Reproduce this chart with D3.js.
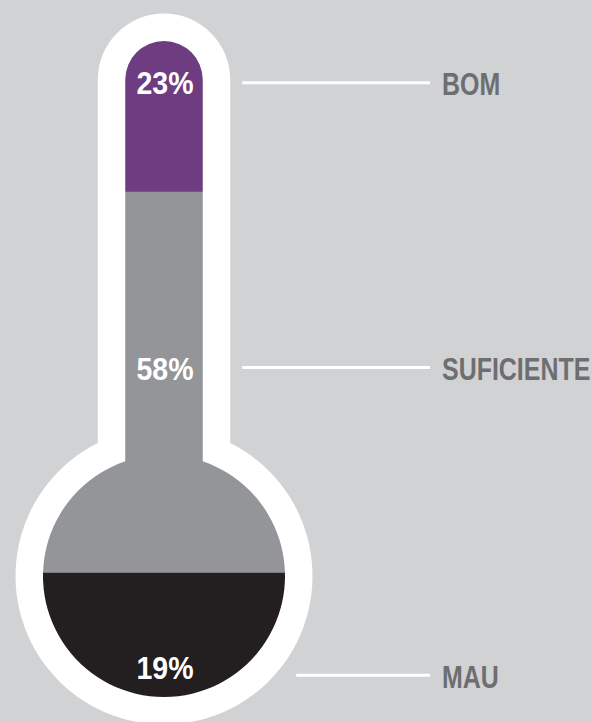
<!DOCTYPE html>
<html>
<head>
<meta charset="utf-8">
<script src="https://cdn.jsdelivr.net/npm/d3@7"></script>
<style>
  html, body { margin: 0; padding: 0; background: #d1d2d4; }
  svg { display: block; }
  .pct, .cat { font-family: "Liberation Sans", Arial, sans-serif; font-weight: bold; }
</style>
</head>
<body>
<script>
// Survey rating shares, stacked from the bottom of the bulb upwards
const categories = ["MAU", "SUFICIENTE", "BOM"];
const shares = [19, 58, 23];
const colors = ["#231f20", "#939598", "#6e3c80"];
// scale level (0–100) of each percentage label inside the fluid
const pctLevels = [4.45, 50, 93.6];
// scale level (0–100) of each category callout on the right
const calloutLevels = [3.1, 50, 93.4];

const W = 592, H = 722;
const cx = 164;               // thermometer axis
const tubeHalf = 38.75;       // inner tube half-width
const tubeTop = 41;           // top of the fluid column
const bulbCy = 576, bulbR = 121;
const border = 27.5;          // white glass thickness

const svg = d3.select("body").append("svg")
  .attr("width", W).attr("height", H);

svg.append("rect").attr("width", W).attr("height", H).attr("fill", "#d1d2d4");

// fluid scale: 0 at the bottom of the bulb, 100 at the top of the tube
const y = d3.scaleLinear().domain([0, 100]).range([bulbCy + bulbR, tubeTop]);

function thermoPath(half, r, top) {
  const p = d3.path();
  const arcCy = top + half;
  const dx = half;
  const dy = Math.sqrt(r * r - dx * dx);
  p.moveTo(cx - half, arcCy);
  p.arc(cx, arcCy, half, Math.PI, 0);
  p.lineTo(cx + half, bulbCy - dy);
  // around the bulb, from the right join to the left join the long way
  const a0 = Math.atan2(-dy, dx);
  const a1 = Math.atan2(-dy, -dx);
  p.arc(cx, bulbCy, r, a0, a1, false);
  p.closePath();
  return p.toString();
}

// white glass
svg.append("path")
  .attr("d", thermoPath(tubeHalf + border, bulbR + border, tubeTop - border))
  .attr("fill", "#ffffff");

// fluid clip
svg.append("clipPath").attr("id", "fluid")
  .append("path")
  .attr("d", thermoPath(tubeHalf, bulbR, tubeTop));

// stacked segments
let acc = 0;
const segs = shares.map((v, i) => {
  const s = {
    cat: categories[i], v, lo: acc, hi: acc + v, color: colors[i],
    pctLvl: pctLevels[i], callLvl: calloutLevels[i]
  };
  acc += v;
  return s;
});

const g = svg.append("g").attr("clip-path", "url(#fluid)");
g.selectAll("rect").data(segs).join("rect")
  .attr("x", cx - bulbR - 2)
  .attr("width", 2 * bulbR + 4)
  .attr("y", d => y(d.hi))
  .attr("height", d => y(d.lo) - y(d.hi))
  .attr("fill", d => d.color);

// percentage labels inside the fluid (condensed bold)
svg.selectAll("text.pct").data(segs).join("text")
  .attr("class", "pct")
  .attr("transform", d => `translate(${cx + 1},${y(d.pctLvl)}) scale(0.92,1)`)
  .attr("dy", "0.36em")
  .attr("text-anchor", "middle")
  .attr("font-size", 31)
  .attr("fill", "#ffffff")
  .text(d => d.v + "%");

// callout lines and category names
const outerR = bulbR + border;
function lineStart(yy) {
  const dy = yy - bulbCy;
  if (yy < bulbCy - Math.sqrt(outerR * outerR - (tubeHalf + border) ** 2)) {
    return cx + tubeHalf + border + 12;
  }
  return cx + Math.sqrt(Math.max(0, outerR * outerR - dy * dy)) + 23;
}

svg.selectAll("line.call").data(segs).join("line")
  .attr("class", "call")
  .attr("x1", d => lineStart(y(d.callLvl)))
  .attr("x2", 430)
  .attr("y1", d => y(d.callLvl) - 1.5)
  .attr("y2", d => y(d.callLvl) - 1.5)
  .attr("stroke", "#ffffff")
  .attr("stroke-width", 3);

svg.selectAll("text.cat").data(segs).join("text")
  .attr("class", "cat")
  .attr("transform", d => `translate(442,${y(d.callLvl)}) scale(0.805,1)`)
  .attr("dy", "0.36em")
  .attr("font-size", 31)
  .attr("fill", "#6d6e71")
  .text(d => d.cat);
</script>
</body>
</html>
